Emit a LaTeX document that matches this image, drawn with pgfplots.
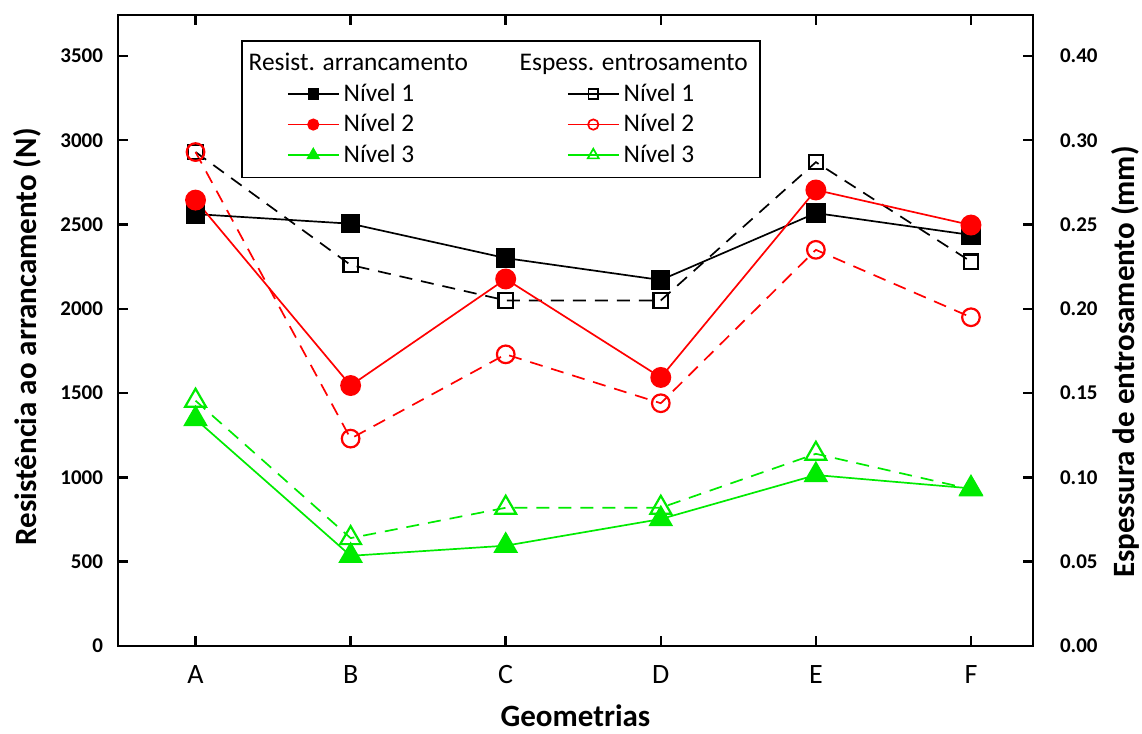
\documentclass[border=0pt]{standalone}
\usepackage{pgfplots}
\pgfplotsset{compat=1.18}
\usepackage{fontspec}
\setmainfont{Carlito}
\definecolor{cred}{RGB}{255,0,0}
\definecolor{cgreen}{RGB}{0,235,0}
\pgfplotsset{
  common/.style={
    scale only axis, width=457.5pt, height=315.5pt,
    at={(0pt,0pt)}, anchor=south west,
    xmin=-0.5, xmax=5.4,
    axis line style={line width=1.25pt},
    every tick/.style={line width=1.25pt, black},
    major tick length=5pt, tick align=inside,
  },
  fserie/.style={line width=0.85pt, solid},
  oserie/.style={line width=0.85pt, dash pattern=on 6.5pt off 4.5pt, mark options={solid, fill=white, line width=1.1pt}},
}
\begin{document}
\begin{tikzpicture}
\useasboundingbox (-59pt,-44pt) rectangle (512pt,323pt);
% right axis: thickness (open markers)
\begin{axis}[common,
  axis y line*=right, axis x line=none,
  ymin=0, ymax=0.3743,
  ytick={0,0.05,0.1,0.15,0.2,0.25,0.3,0.35},
  yticklabels={0.00,0.05,0.10,0.15,0.20,0.25,0.30,0.40},
  yticklabel style={font=\bfseries\fontsize{10.5}{12}\selectfont, anchor=west, xshift=10pt},
  ylabel={Espessura de entrosamento (mm)},
  ylabel style={font=\bfseries\fontsize{15.5}{18}\selectfont, at={(axis description cs:1.1005,0.45)}, anchor=center},
]
\addplot[oserie, black, mark=square, mark size=3.6pt] coordinates {(0,0.293) (1,0.226) (2,0.205) (3,0.205) (4,0.287) (5,0.228)};
\addplot[oserie, cred, mark=o, mark size=4.4pt] coordinates {(0,0.293) (1,0.123) (2,0.173) (3,0.144) (4,0.235) (5,0.195)};
\addplot[oserie, cgreen, mark=triangle, mark size=6pt] coordinates {(0,0.1455) (1,0.064) (2,0.082) (3,0.082) (4,0.114) (5,0.093)};
\end{axis}
% left axis: pull-out resistance (filled markers)
\begin{axis}[common,
  ymin=0, ymax=3743,
  ytick={0,500,1000,1500,2000,2500,3000,3500},
  yticklabels={0,500,1000,1500,2000,2500,3000,3500},
  ytick pos=left,
  yticklabel style={font=\bfseries\fontsize{10.5}{12}\selectfont, xshift=-4pt},
  xtick={0,1,2,3,4,5}, xticklabels={A,B,C,D,E,F},
  xtick pos=both, xticklabel pos=left,
  xticklabel style={font=\fontsize{14}{16}\selectfont, anchor=base, yshift=-19pt},
  xlabel={Geometrias},
  xlabel style={font=\bfseries\fontsize{15.5}{18}\selectfont, at={(axis description cs:0.5,0)}, anchor=base, yshift=-40.5pt},
  ylabel={Resistência ao arrancamento (N)},
  ylabel style={font=\bfseries\fontsize{15.5}{18}\selectfont, at={(axis description cs:-0.0995,0.49)}, anchor=center},
  legend columns=2,
  legend cell align=left,
  legend style={at={(axis description cs:0.1344,0.960)}, anchor=north west,
    draw=black, line width=0.9pt, font=\fontsize{12.7}{15}\selectfont,
    inner xsep=4pt, inner ysep=4pt, row sep=1pt,
    /tikz/every even column/.append style={column sep=29pt}},
  legend image code/.code={\path (0pt,0pt) (44pt,0pt);
    \draw[mark repeat=2, mark phase=2, line width=0.85pt, solid] plot coordinates {(18.5pt,0pt) (31.25pt,0pt) (44pt,0pt)};},
]
\addplot[fserie, black, mark=square*, mark size=4.4pt, forget plot] coordinates {(0,2562) (1,2505) (2,2301) (3,2171) (4,2568) (5,2438)};
\addplot[fserie, cred, mark=*, mark size=4.8pt, forget plot] coordinates {(0,2645) (1,1545) (2,2177) (3,1593) (4,2705) (5,2497)};
\addplot[fserie, cgreen, mark=triangle*, mark size=6.3pt, forget plot] coordinates {(0,1346) (1,535) (2,595) (3,753) (4,1014) (5,935)};
\addlegendimage{empty legend}
\addlegendentry{\hspace*{-47.5pt}Resist. arrancamento}
\addlegendimage{empty legend}
\addlegendentry{\hspace*{-52pt}Espess. entrosamento}
\addlegendimage{black, mark=square*, mark size=2.4pt}
\addlegendentry{Nível 1}
\addlegendimage{black, mark=square, mark size=2.4pt, mark options={fill=white}}
\addlegendentry{Nível 1}
\addlegendimage{cred, mark=*, mark size=2.6pt}
\addlegendentry{Nível 2}
\addlegendimage{cred, mark=o, mark size=2.6pt, mark options={fill=white}}
\addlegendentry{Nível 2}
\addlegendimage{cgreen, mark=triangle*, mark size=3.2pt}
\addlegendentry{Nível 3}
\addlegendimage{cgreen, mark=triangle, mark size=3.2pt, mark options={fill=white}}
\addlegendentry{Nível 3}
\end{axis}
\end{tikzpicture}
\end{document}
